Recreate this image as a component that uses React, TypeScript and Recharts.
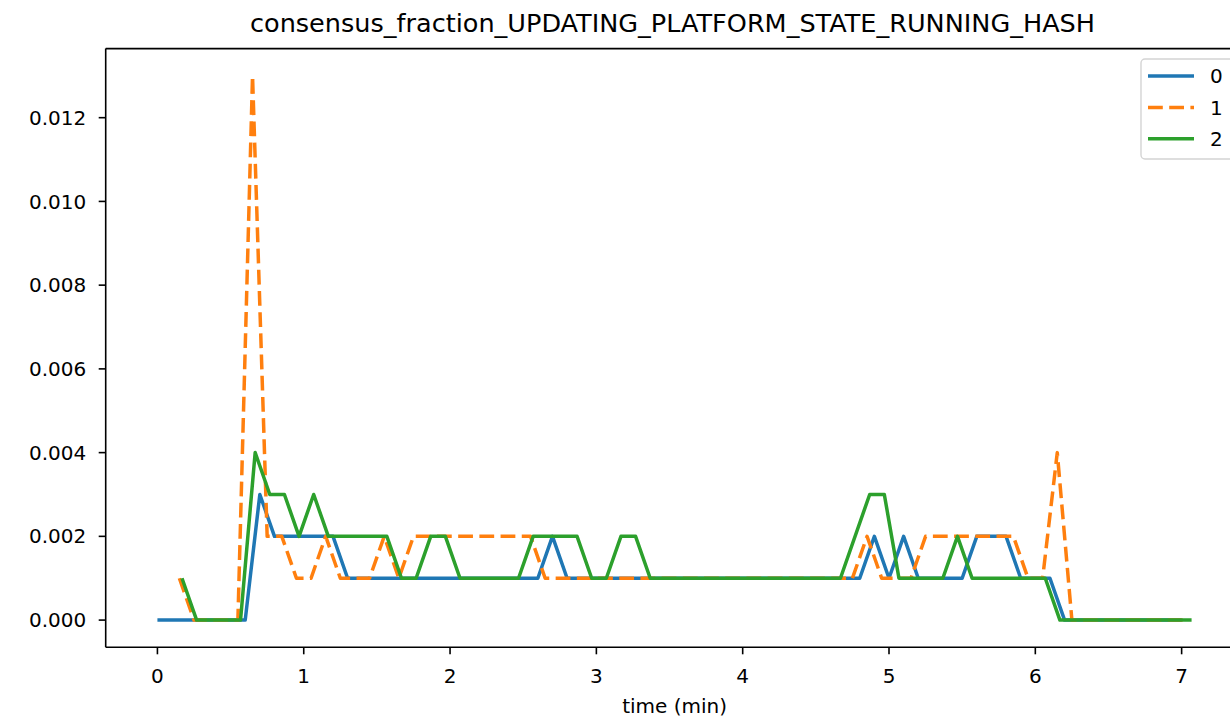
import React from 'react';
import { LineChart, Line, XAxis, YAxis, ReferenceLine } from 'recharts';

// chart text
const TITLE = 'consensus_fraction_UPDATING_PLATFORM_STATE_RUNNING_HASH';
const X_LABEL = 'time (min)';
const SERIES_NAMES = ['0', '1', '2'];

// axes
const X_TICKS = [0, 1, 2, 3, 4, 5, 6, 7];
const Y_TICKS = [0, 0.002, 0.004, 0.006, 0.008, 0.01, 0.012];
const X_DOMAIN = [-0.3535, 7.4235];
const Y_DOMAIN = [-0.00065, 0.01365];

// series 0 (blue)
const TIME_0 = [0, 0.6, 0.7, 0.8, 1.2, 1.3, 2.6, 2.7, 2.8, 4.8, 4.9, 5.0, 5.1, 5.2, 5.5, 5.6, 5.8, 5.9, 6.1, 6.2, 7.0];
const VALUE_0 = [0, 0, 0.003, 0.002, 0.002, 0.001, 0.001, 0.002, 0.001, 0.001, 0.002, 0.001, 0.002, 0.001, 0.001, 0.002, 0.002, 0.001, 0.001, 0, 0];

// series 1 (orange, dashed)
const TIME_1 = [0.15, 0.25, 0.55, 0.65, 0.75, 0.85, 0.95, 1.05, 1.15, 1.25, 1.45, 1.55, 1.65, 1.75, 2.55, 2.65, 4.75, 4.85, 4.95, 5.15, 5.25, 5.85, 5.95, 6.05, 6.15, 6.25, 7.05];
const VALUE_1 = [0.001, 0, 0, 0.013, 0.002, 0.002, 0.001, 0.001, 0.002, 0.001, 0.001, 0.002, 0.001, 0.002, 0.002, 0.001, 0.001, 0.002, 0.001, 0.001, 0.002, 0.002, 0.001, 0.001, 0.004, 0, 0];

// series 2 (green)
const TIME_2 = [0.168, 0.268, 0.568, 0.668, 0.768, 0.868, 0.968, 1.068, 1.168, 1.568, 1.668, 1.768, 1.868, 1.968, 2.068, 2.468, 2.568, 2.868, 2.968, 3.068, 3.168, 3.268, 3.368, 4.668, 4.868, 4.968, 5.068, 5.368, 5.468, 5.568, 6.068, 6.168, 7.068];
const VALUE_2 = [0.001, 0, 0, 0.004, 0.003, 0.003, 0.002, 0.003, 0.002, 0.002, 0.001, 0.001, 0.002, 0.002, 0.001, 0.001, 0.002, 0.002, 0.001, 0.001, 0.002, 0.002, 0.001, 0.001, 0.003, 0.003, 0.001, 0.001, 0.002, 0.001, 0.001, 0, 0];

const COLORS = ['#1f77b4', '#ff7f0e', '#2ca02c'];
const DASH = '14.8 6.4';
const FONT = '"DejaVu Sans", sans-serif';

const toPoints = (times: number[], values: number[]) =>
  times.map((t, i) => ({ t, v: values[i] }));

const series = [
  toPoints(TIME_0, VALUE_0),
  toPoints(TIME_1, VALUE_1),
  toPoints(TIME_2, VALUE_2),
];

const tickStyle = { fill: '#000', fontSize: 20, fontFamily: FONT };

const App: React.FC = () => {
  return (
    <div
      style={{
        position: 'fixed',
        left: 0,
        top: 0,
        width: 1230,
        height: 721,
        overflow: 'hidden',
        background: '#fff',
        fontFamily: FONT,
      }}
    >
      <LineChart
        width={1260}
        height={721}
        margin={{ top: 48.6, right: 16.4, bottom: 0, left: 0 }}
      >
        <XAxis
          dataKey="t"
          type="number"
          domain={X_DOMAIN}
          ticks={X_TICKS}
          allowDataOverflow
          height={73.7}
          tickSize={7}
          tickMargin={14}
          tick={tickStyle}
          axisLine={{ stroke: '#000', strokeWidth: 1.6 }}
          tickLine={{ stroke: '#000', strokeWidth: 1.6 }}
          label={{ value: X_LABEL, position: 'insideBottom', offset: 8, fill: '#000', fontSize: 20, fontFamily: FONT }}
        />
        <YAxis
          type="number"
          domain={Y_DOMAIN}
          ticks={Y_TICKS}
          allowDataOverflow
          width={105.7}
          tickSize={7}
          tickMargin={12.5}
          tick={tickStyle}
          tickFormatter={(v: number) => v.toFixed(3)}
          axisLine={{ stroke: '#000', strokeWidth: 1.6 }}
          tickLine={{ stroke: '#000', strokeWidth: 1.6 }}
        />
        <ReferenceLine y={Y_DOMAIN[1]} stroke="#000" strokeWidth={1.6} />
        {series.map((points, i) => (
          <Line
            key={SERIES_NAMES[i]}
            name={SERIES_NAMES[i]}
            data={points}
            dataKey="v"
            type="linear"
            stroke={COLORS[i]}
            strokeWidth={3.5}
            strokeDasharray={i === 1 ? DASH : undefined}
            strokeLinejoin="round"
            dot={false}
            activeDot={false}
            isAnimationActive={false}
          />
        ))}
      </LineChart>

      {/* title and legend drawn on top, matplotlib style */}
      <svg
        width={1230}
        height={721}
        style={{ position: 'absolute', left: 0, top: 0, pointerEvents: 'none' }}
      >
        <text
          x={672.5}
          y={32}
          textAnchor="middle"
          fontSize={24.5}
          fontFamily={FONT}
          fill="#000"
          textLength={845}
          lengthAdjust="spacingAndGlyphs"
        >
          {TITLE}
        </text>
        <rect x={1141} y={59} width={120} height={100} rx={4} fill="#fff" fillOpacity={0.8} stroke="#d4d4d4" strokeWidth={1.4} />
        {SERIES_NAMES.map((name, i) => {
          const y = 76 + i * 31.4;
          return (
            <g key={name}>
              <line
                x1={1148}
                x2={1194}
                y1={y}
                y2={y}
                stroke={COLORS[i]}
                strokeWidth={3.5}
                strokeDasharray={i === 1 ? DASH : undefined}
              />
              <text x={1210} y={y + 7.3} fontSize={20} fontFamily={FONT} fill="#000">
                {name}
              </text>
            </g>
          );
        })}
      </svg>
    </div>
  );
};

export default App;
